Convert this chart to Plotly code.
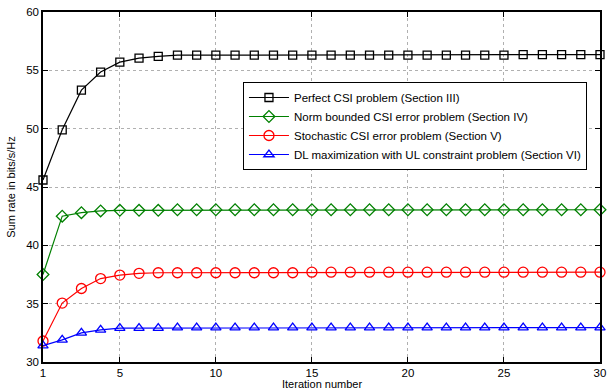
import plotly.graph_objects as go

iterations = list(range(1, 31))
perfect = [45.6, 49.9, 53.3, 54.85, 55.7, 56.05, 56.2, 56.3, 56.3, 56.3, 56.3, 56.3, 56.3, 56.3, 56.3,
           56.3, 56.3, 56.3, 56.3, 56.3, 56.3, 56.3, 56.3, 56.3, 56.3, 56.35, 56.35, 56.35, 56.35, 56.35]
norm_bounded = [37.5, 42.5, 42.8, 42.95, 43.0, 43.0, 43.0, 43.05, 43.05, 43.05, 43.05, 43.05, 43.05, 43.05, 43.05,
                43.05, 43.05, 43.05, 43.05, 43.05, 43.05, 43.05, 43.05, 43.05, 43.05, 43.05, 43.05, 43.05, 43.05, 43.05]
stochastic = [31.8, 35.05, 36.3, 37.15, 37.45, 37.6, 37.65, 37.65, 37.65, 37.65, 37.65, 37.65, 37.65, 37.65, 37.7,
              37.7, 37.7, 37.7, 37.7, 37.7, 37.7, 37.7, 37.7, 37.7, 37.7, 37.7, 37.7, 37.7, 37.7, 37.7]
dl_ul = [31.4, 31.9, 32.5, 32.75, 32.9, 32.9, 32.9, 32.95, 32.95, 32.95, 32.95, 32.95, 32.95, 32.95, 32.95,
         32.95, 32.95, 32.95, 32.95, 32.95, 32.95, 32.95, 32.95, 32.95, 32.95, 32.95, 32.95, 32.95, 32.95, 32.95]

names = ["Perfect CSI problem (Section III)",
         "Norm bounded CSI error problem (Section IV)",
         "Stochastic CSI error problem (Section V)",
         "DL maximization with UL constraint problem (Section VI)"]
colors = ["#000000", "#008000", "#ff0000", "#0000ff"]
symbols = ["square-open", "diamond-open", "circle-open", "triangle-up-open"]
sizes = [8, 9, 10, 9]
series = [perfect, norm_bounded, stochastic, dl_ul]

fig = go.Figure()
for y, n, c, s, sz in zip(series, names, colors, symbols, sizes):
    fig.add_trace(go.Scatter(
        x=iterations, y=y, name=n, mode="lines+markers",
        line=dict(color=c, width=1.2),
        marker=dict(symbol=s, size=sz, color=c, line=dict(color=c, width=1.3)),
        cliponaxis=False,
    ))

axis_common = dict(
    showline=True, linecolor="black", linewidth=1.5, mirror="ticks",
    ticks="inside", ticklen=5, tickcolor="black",
    showgrid=True, gridcolor="#b0b0b0", griddash="dot", gridwidth=1,
    zeroline=False, automargin=False,
    tickfont=dict(family="Liberation Sans, Arial", size=11.5, color="black"),
)

fig.update_layout(
    width=607, height=389,
    margin=dict(l=43, r=7, t=12, b=27),
    paper_bgcolor="white", plot_bgcolor="white",
    font=dict(family="Liberation Sans, Arial", color="black"),
    xaxis=dict(range=[1, 30], tickvals=[1, 5, 10, 15, 20, 25, 30], ticklabelstandoff=-1, **axis_common),
    yaxis=dict(range=[30, 60], tickvals=[30, 35, 40, 45, 50, 55, 60],
               title=dict(text="Sum rate in bits/s/Hz", font=dict(size=11), standoff=8), **axis_common),
    legend=dict(x=0.359, y=0.80, xanchor="left", yanchor="top",
                bgcolor="white", bordercolor="black", borderwidth=1,
                font=dict(size=11.5, family="Liberation Sans, Arial"),
                tracegroupgap=0, itemwidth=40),
    showlegend=True,
    annotations=[dict(text="Iteration number", xref="paper", yref="paper", x=0.5, y=0,
                      xanchor="center", yanchor="middle", yshift=-22, showarrow=False,
                      font=dict(size=11))],
)

fig.write_html("out.html")
